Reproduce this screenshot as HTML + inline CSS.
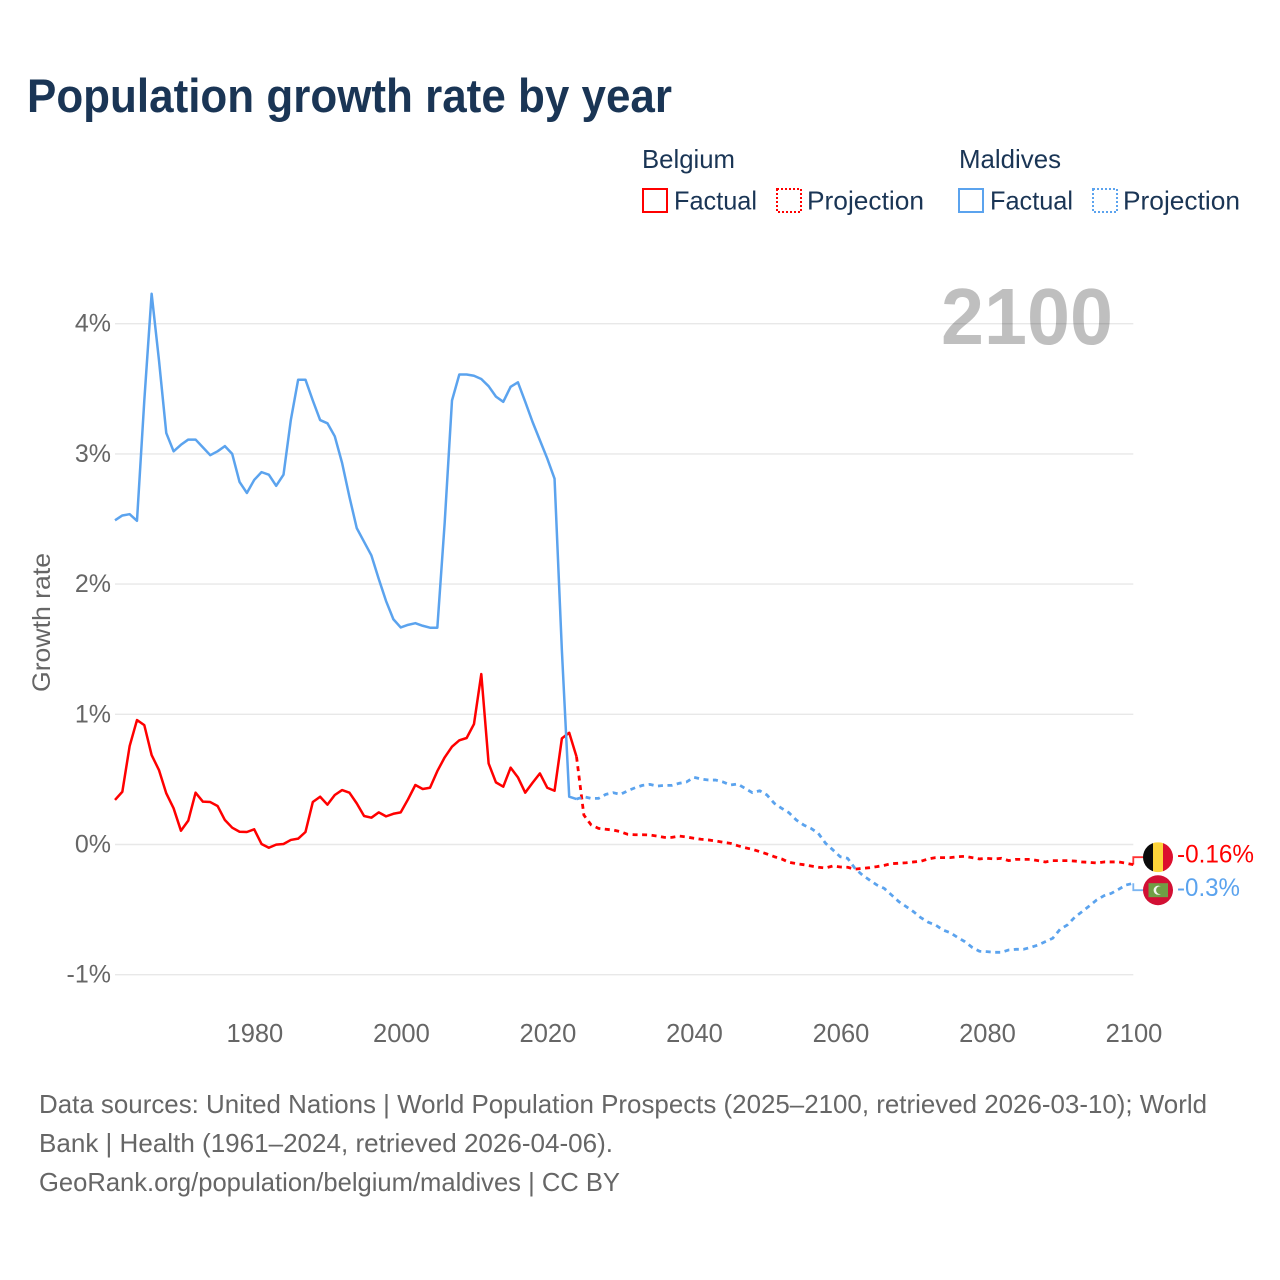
<!DOCTYPE html>
<html lang="en">
<head>
<meta charset="utf-8">
<title>Population growth rate by year</title>
<style>
  html, body { margin: 0; padding: 0; background: #fff; }
  body { width: 1280px; height: 1280px; overflow: hidden; }
  svg { display: block; font-family: "Liberation Sans", Arial, sans-serif; }
  .navy { fill: #1a3555; }
  .grey { fill: #666666; }
</style>
</head>
<body>
<svg id="chart" xmlns="http://www.w3.org/2000/svg" width="1280" height="1280" viewBox="0 0 1280 1280">
  <text class="navy" x="27" y="112" font-size="47" font-weight="700" textLength="645" lengthAdjust="spacingAndGlyphs">Population growth rate by year</text>

  <g>
    <text class="navy" x="642" y="168" font-size="26" textLength="93" lengthAdjust="spacingAndGlyphs">Belgium</text>
    <text class="navy" x="959" y="168" font-size="26" textLength="102" lengthAdjust="spacingAndGlyphs">Maldives</text>
    <g>
      <rect x="643" y="189" width="24" height="23" fill="none" stroke="#ff0000" stroke-width="2"/>
      <text class="navy" x="674" y="209.5" font-size="26" textLength="83" lengthAdjust="spacingAndGlyphs">Factual</text>
    </g>
    <g>
      <rect x="777" y="189" width="24" height="23" fill="none" stroke="#ff0000" stroke-width="2" stroke-dasharray="2 2"/>
      <text class="navy" x="807" y="209.5" font-size="26" textLength="117" lengthAdjust="spacingAndGlyphs">Projection</text>
    </g>
    <g>
      <rect x="959" y="189" width="24" height="23" fill="none" stroke="#5ba3ee" stroke-width="2"/>
      <text class="navy" x="990" y="209.5" font-size="26" textLength="83" lengthAdjust="spacingAndGlyphs">Factual</text>
    </g>
    <g>
      <rect x="1093" y="189" width="24" height="23" fill="none" stroke="#5ba3ee" stroke-width="2" stroke-dasharray="2 2"/>
      <text class="navy" x="1123" y="209.5" font-size="26" textLength="117" lengthAdjust="spacingAndGlyphs">Projection</text>
    </g>
  </g>

  <g id="grid"></g>
  <text x="941" y="344" font-size="80" font-weight="700" fill="#000" fill-opacity="0.25" textLength="172" lengthAdjust="spacingAndGlyphs">2100</text>
  <g id="yaxis"></g>
  <g id="xaxis"></g>
  <text class="grey" transform="translate(50,692) rotate(-90)" font-size="25" textLength="139" lengthAdjust="spacingAndGlyphs">Growth rate</text>
  <g id="series"></g>
  <g id="ends"></g>

  <g>
    <text class="grey" x="39" y="1113" font-size="26" textLength="1168" lengthAdjust="spacingAndGlyphs">Data sources: United Nations | World Population Prospects (2025–2100, retrieved 2026-03-10); World</text>
    <text class="grey" x="39" y="1152" font-size="26" textLength="574" lengthAdjust="spacingAndGlyphs">Bank | Health (1961–2024, retrieved 2026-04-06).</text>
    <text class="grey" x="39" y="1191" font-size="26" textLength="581" lengthAdjust="spacingAndGlyphs">GeoRank.org/population/belgium/maldives | CC BY</text>
  </g>
</svg>
<script>
const firstFactualYear = 1961;
const firstProjectionYear = 2024;
const xTickYears = [1980, 2000, 2020, 2040, 2060, 2080, 2100];
const yTickValues = [-1, 0, 1, 2, 3, 4];

const belgiumFactual = [
  0.342,0.405,0.756,0.956,0.917,0.687,0.572,0.393,0.278,0.106,
  0.183,0.398,0.329,0.326,0.296,0.188,0.129,0.098,0.096,0.117,
  0.004,-0.025,-0.001,0.004,0.035,0.045,0.096,0.326,0.367,0.306,
  0.38,0.418,0.398,0.316,0.219,0.206,0.247,0.216,0.236,0.247,
  0.347,0.457,0.426,0.436,0.564,0.669,0.751,0.8,0.818,0.925,
  1.309,0.623,0.477,0.444,0.59,0.516,0.398,0.474,0.546,0.436,
  0.413,0.815,0.858,0.674
];
const belgiumProjection = [
  0.674,0.226,0.15,0.124,0.117,0.111,0.098,0.078,0.075,0.075,
  0.073,0.065,0.055,0.055,0.065,0.058,0.048,0.04,0.035,0.027,
  0.017,0.009,-0.009,-0.025,-0.037,-0.055,-0.073,-0.094,-0.111,-0.137,
  -0.147,-0.155,-0.165,-0.175,-0.18,-0.165,-0.173,-0.175,-0.19,-0.183,
  -0.178,-0.17,-0.16,-0.147,-0.144,-0.14,-0.134,-0.129,-0.111,-0.101,
  -0.101,-0.101,-0.094,-0.091,-0.101,-0.111,-0.106,-0.111,-0.106,-0.124,
  -0.114,-0.114,-0.114,-0.124,-0.134,-0.124,-0.124,-0.124,-0.127,-0.134,
  -0.137,-0.142,-0.134,-0.134,-0.134,-0.144,-0.155
];
const maldivesFactual = [
  2.49,2.527,2.537,2.486,3.41,4.23,3.72,3.16,3.02,3.07,
  3.11,3.11,3.05,2.99,3.02,3.06,3.0,2.785,2.70,2.80,
  2.86,2.84,2.755,2.84,3.26,3.57,3.57,3.41,3.26,3.235,
  3.135,2.93,2.67,2.43,2.325,2.22,2.04,1.87,1.73,1.667,
  1.687,1.70,1.68,1.665,1.665,2.47,3.41,3.61,3.61,3.60,
  3.575,3.52,3.44,3.40,3.515,3.55,3.40,3.245,3.105,2.965,
  2.81,1.49,0.367,0.349
];
const maldivesProjection = [
  0.349,0.367,0.354,0.354,0.385,0.398,0.385,0.413,0.436,0.454,
  0.462,0.449,0.454,0.454,0.47,0.48,0.516,0.503,0.495,0.495,
  0.48,0.457,0.465,0.431,0.398,0.413,0.38,0.316,0.278,0.244,
  0.188,0.15,0.124,0.086,0.009,-0.042,-0.094,-0.106,-0.183,-0.234,
  -0.273,-0.311,-0.337,-0.388,-0.439,-0.477,-0.516,-0.562,-0.597,-0.618,
  -0.656,-0.677,-0.713,-0.746,-0.79,-0.82,-0.823,-0.828,-0.828,-0.81,
  -0.805,-0.805,-0.79,-0.772,-0.746,-0.72,-0.651,-0.618,-0.559,-0.516,
  -0.472,-0.426,-0.393,-0.375,-0.344,-0.311,-0.298
];
const endLabels = ['-0.16%', '-0.3%'];

const SVG_NS = 'http://www.w3.org/2000/svg';
const RED = '#ff0000';
const BLUE = '#5ba3ee';

function xScale(year) { return 115 + (year - 1961) * (1133.3 - 115) / (2100 - 1961); }
function yScale(value) { return 844.5 - value * 130.2; }

function make(tag, attrs) {
  const el = document.createElementNS(SVG_NS, tag);
  for (const k in attrs) el.setAttribute(k, attrs[k]);
  return el;
}

function linePath(values, startYear) {
  return values.map((v, i) => (i ? 'L' : 'M') + xScale(startYear + i).toFixed(2) + ' ' + yScale(v).toFixed(2)).join(' ');
}

const gridLayer = document.getElementById('grid');
const yAxisLayer = document.getElementById('yaxis');
const xAxisLayer = document.getElementById('xaxis');
const seriesLayer = document.getElementById('series');
const endsLayer = document.getElementById('ends');

yTickValues.forEach(function (v) {
  const line = make('line', { x1: xScale(1961), x2: xScale(2100), y1: yScale(v), y2: yScale(v), stroke: '#e8e8e8', 'stroke-width': 1.4 });
  
  
  gridLayer.appendChild(line);

  const label = make('text', { x: 111, y: yScale(v) + 8, 'text-anchor': 'end', 'font-size': 25, class: 'grey' });
  
  
  label.textContent = v + '%';
  yAxisLayer.appendChild(label);
});

xTickYears.forEach(function (year) {
  const label = make('text', { x: xScale(year) + 0.7, y: 1042, 'text-anchor': 'middle', 'font-size': 25.5, class: 'grey' });
  
  
  label.textContent = year;
  xAxisLayer.appendChild(label);
});

function drawSeries(values, startYear, color, dashed, name) {
  const path = make('path', {
    d: linePath(values, startYear), fill: 'none', stroke: color,
    'stroke-width': dashed ? 2.8 : 2.5, 'stroke-linejoin': 'round'
  });
  if (dashed) path.setAttribute('stroke-dasharray', '5 4.5');
  
  
  seriesLayer.appendChild(path);
}

drawSeries(belgiumProjection, firstProjectionYear, RED, true, 'belgium-projection-line');
drawSeries(belgiumFactual, firstFactualYear, RED, false, 'belgium-factual-line');
drawSeries(maldivesProjection, firstProjectionYear, BLUE, true, 'maldives-projection-line');
drawSeries(maldivesFactual, firstFactualYear, BLUE, false, 'maldives-factual-line');

const belgiumEnd = yScale(belgiumProjection[belgiumProjection.length - 1]);
const maldivesEnd = yScale(maldivesProjection[maldivesProjection.length - 1]);
const endMid = (belgiumEnd + maldivesEnd) / 2;
const belgiumFlagY = endMid - 16.8;
const maldivesFlagY = endMid + 16.2;
const endX = xScale(2100);
const flagX = 1158;

function drawConnector(fromY, toY, color, name) {
  const path = make('path', {
    d: 'M' + endX + ' ' + fromY + ' V' + toY + ' H' + (flagX - 15),
    fill: 'none', stroke: color, 'stroke-width': 1.8, 'stroke-opacity': 0.8
  });
  
  
  endsLayer.appendChild(path);
}
drawConnector(belgiumEnd, belgiumFlagY, RED, 'belgium-end-connector');
drawConnector(maldivesEnd, maldivesFlagY, BLUE, 'maldives-end-connector');

const clipDefs = make('defs', {});
const clipB = make('clipPath', { id: 'clip-belgium' });
clipB.appendChild(make('circle', { cx: flagX, cy: belgiumFlagY, r: 15 }));
clipDefs.appendChild(clipB);
endsLayer.appendChild(clipDefs);

const belgiumFlag = make('g', { 'clip-path': 'url(#clip-belgium)' });


belgiumFlag.appendChild(make('rect', { x: flagX - 15, y: belgiumFlagY - 15, width: 10, height: 30, fill: '#0b0b0b' }));
belgiumFlag.appendChild(make('rect', { x: flagX - 5, y: belgiumFlagY - 15, width: 10, height: 30, fill: '#fdd43a' }));
belgiumFlag.appendChild(make('rect', { x: flagX + 5, y: belgiumFlagY - 15, width: 10, height: 30, fill: '#dc0f2e' }));
endsLayer.appendChild(belgiumFlag);

const maldivesFlag = make('g', {});


maldivesFlag.appendChild(make('circle', { cx: flagX, cy: maldivesFlagY, r: 15, fill: '#d21034' }));
maldivesFlag.appendChild(make('rect', { x: flagX - 9.5, y: maldivesFlagY - 7, width: 19.5, height: 14, fill: '#6f9f45' }));
maldivesFlag.appendChild(make('circle', { cx: flagX + 0.2, cy: maldivesFlagY, r: 4.6, fill: '#f4f4f0' }));
maldivesFlag.appendChild(make('circle', { cx: flagX + 2, cy: maldivesFlagY, r: 3.9, fill: '#6f9f45' }));
endsLayer.appendChild(maldivesFlag);

const belgiumValue = make('text', { x: 1177, y: belgiumFlagY + 5.5, 'font-size': 25, fill: RED, textLength: 77, lengthAdjust: 'spacingAndGlyphs' });


belgiumValue.textContent = endLabels[0];
endsLayer.appendChild(belgiumValue);

const maldivesValue = make('text', { x: 1177, y: maldivesFlagY + 6, 'font-size': 25, fill: BLUE, textLength: 63, lengthAdjust: 'spacingAndGlyphs' });


maldivesValue.textContent = endLabels[1];
endsLayer.appendChild(maldivesValue);
</script>
</body>
</html>
